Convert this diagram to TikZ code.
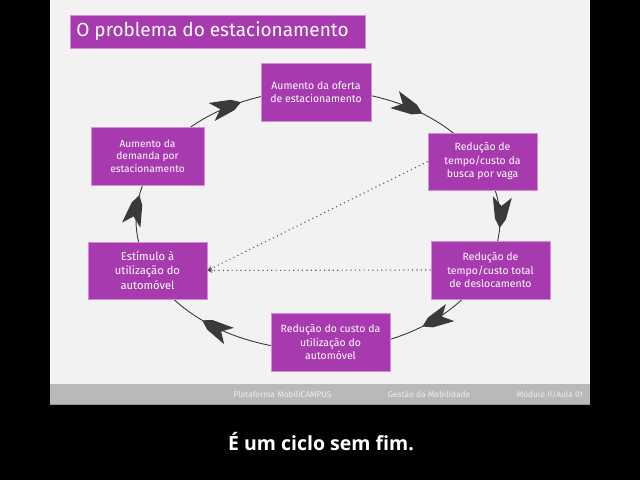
\documentclass[tikz,border=0pt]{standalone}
\usepackage{fontspec}
\setmainfont{Fira Sans}
\newfontfamily\subfont{Open Sans}
\usetikzlibrary{arrows.meta}
\definecolor{slidebg}{HTML}{F2F2F2}
\definecolor{footgray}{HTML}{B9B9B9}
\definecolor{boxpurple}{HTML}{A83AAF}
\definecolor{boxedge}{HTML}{D48ED8}
\definecolor{linegray}{HTML}{3A3A3A}
\definecolor{foottext}{HTML}{EEEEEE}
\tikzset{pics/dart/.style={code={
  \fill[linegray, rotate={atan2(-130*cos(#1),182*sin(#1))}]
    (0,0) -- (-9,5.5) -- (-31,9.5) -- (-22,0) -- (-31,-9.5) -- (-9,-5.5) -- cycle;}}}
\begin{document}
\begin{tikzpicture}[x=1pt,y=1pt,
  box/.style={rectangle, fill=boxpurple, draw=boxedge, line width=0.6pt, text=white, align=center, inner sep=0pt, font=\fontsize{10.5}{13.5}\selectfont},
  conn/.style={draw=linegray, line width=0.9pt},
  dotline/.style={draw=linegray!85, line width=1.1pt, dash pattern=on 1.1pt off 3.3pt, -{Stealth[length=5pt,width=5pt]}},
  foot/.style={text=foottext, font=\fontsize{8.3}{10}\selectfont}]
\useasboundingbox (0,0) rectangle (640,480);
\fill[black] (0,0) rectangle (640,480);
\fill[slidebg] (50,96) rectangle (590,480);
\fill[footgray] (50,75) rectangle (590,96);
\fill[footgray!80!black] (50,75) rectangle (590,76.2);

\node[box, anchor=west, minimum width=295pt, minimum height=33pt, font=\fontsize{19}{22}\selectfont] (title) at (70,448.5) {\makebox[283pt][l]{O problema do estacionamento}};

\coordinate (ec) at (318,260);
% connectors along the cycle
\draw[conn] ([shift={(140:182 and 130)}]ec) arc[start angle=140, end angle=104, x radius=182, y radius=130];
\draw[conn] ([shift={(78:182 and 130)}]ec) arc[start angle=78, end angle=38, x radius=182, y radius=130];
\draw[conn] ([shift={(18:182 and 130)}]ec) arc[start angle=18, end angle=-15, x radius=182, y radius=130];
\draw[conn] ([shift={(-30:182 and 130)}]ec) arc[start angle=-30, end angle=-72, x radius=182, y radius=130];
\draw[conn] ([shift={(-100:182 and 130)}]ec) arc[start angle=-100, end angle=-150, x radius=182, y radius=130];
\draw[conn] ([shift={(200:182 and 130)}]ec) arc[start angle=200, end angle=160, x radius=182, y radius=130];
\pic at ([shift={(115:182 and 130)}]ec) {dart=115};
\pic at ([shift={(55:182 and 130)}]ec) {dart=55};
\pic at ([shift={(-3.5:182 and 130)}]ec) {dart=-3.5};
\pic at ([shift={(-55:182 and 130)}]ec) {dart=-55};
\pic at ([shift={(-129.5:182 and 130)}]ec) {dart=-129.5};
\pic at ([shift={(169:182 and 130)}]ec) {dart=169};

\node[box, minimum width=110pt, minimum height=58pt] (n1) at (316,388) {Aumento da oferta\\de estacionamento};
\node[box, minimum width=109pt, minimum height=57pt] (n2) at (482.5,318.5) {Redução de\\tempo/custo da\\busca por vaga};
\node[box, minimum width=119pt, minimum height=58pt] (n3) at (490.5,210) {Redução de\\tempo/custo total\\de deslocamento};
\node[box, minimum width=119pt, minimum height=58pt] (n4) at (330.5,138) {Redução do custo da\\utilização do\\automóvel};
\node[box, minimum width=119pt, minimum height=57pt, font=\fontsize{11.2}{14.3}\selectfont] (n5) at (147.5,209.5) {Estímulo à\\utilização do\\automóvel};
\node[box, minimum width=113pt, minimum height=58pt, font=\fontsize{10.2}{12.7}\selectfont] (n6) at (147.5,324) {Aumento da\\demanda por\\estacionamento};

\draw[dotline] (n2.west) -- (n5.east);
\draw[dotline] (n3.west) -- (n5.east);

\node[foot] (f1) at (282.5,85.5) {Plataforma MobiliCAMPUS};
\node[foot] (f2) at (429,85.5) {Gestão da Mobilidade};
\node[foot] (f3) at (550,85.5) {Módulo II/Aula 01};

\node[text=white, font=\subfont\bfseries\fontsize{19.5}{22}\selectfont] (sub) at (321,38) {É um ciclo sem fim.};
\end{tikzpicture}
\end{document}
